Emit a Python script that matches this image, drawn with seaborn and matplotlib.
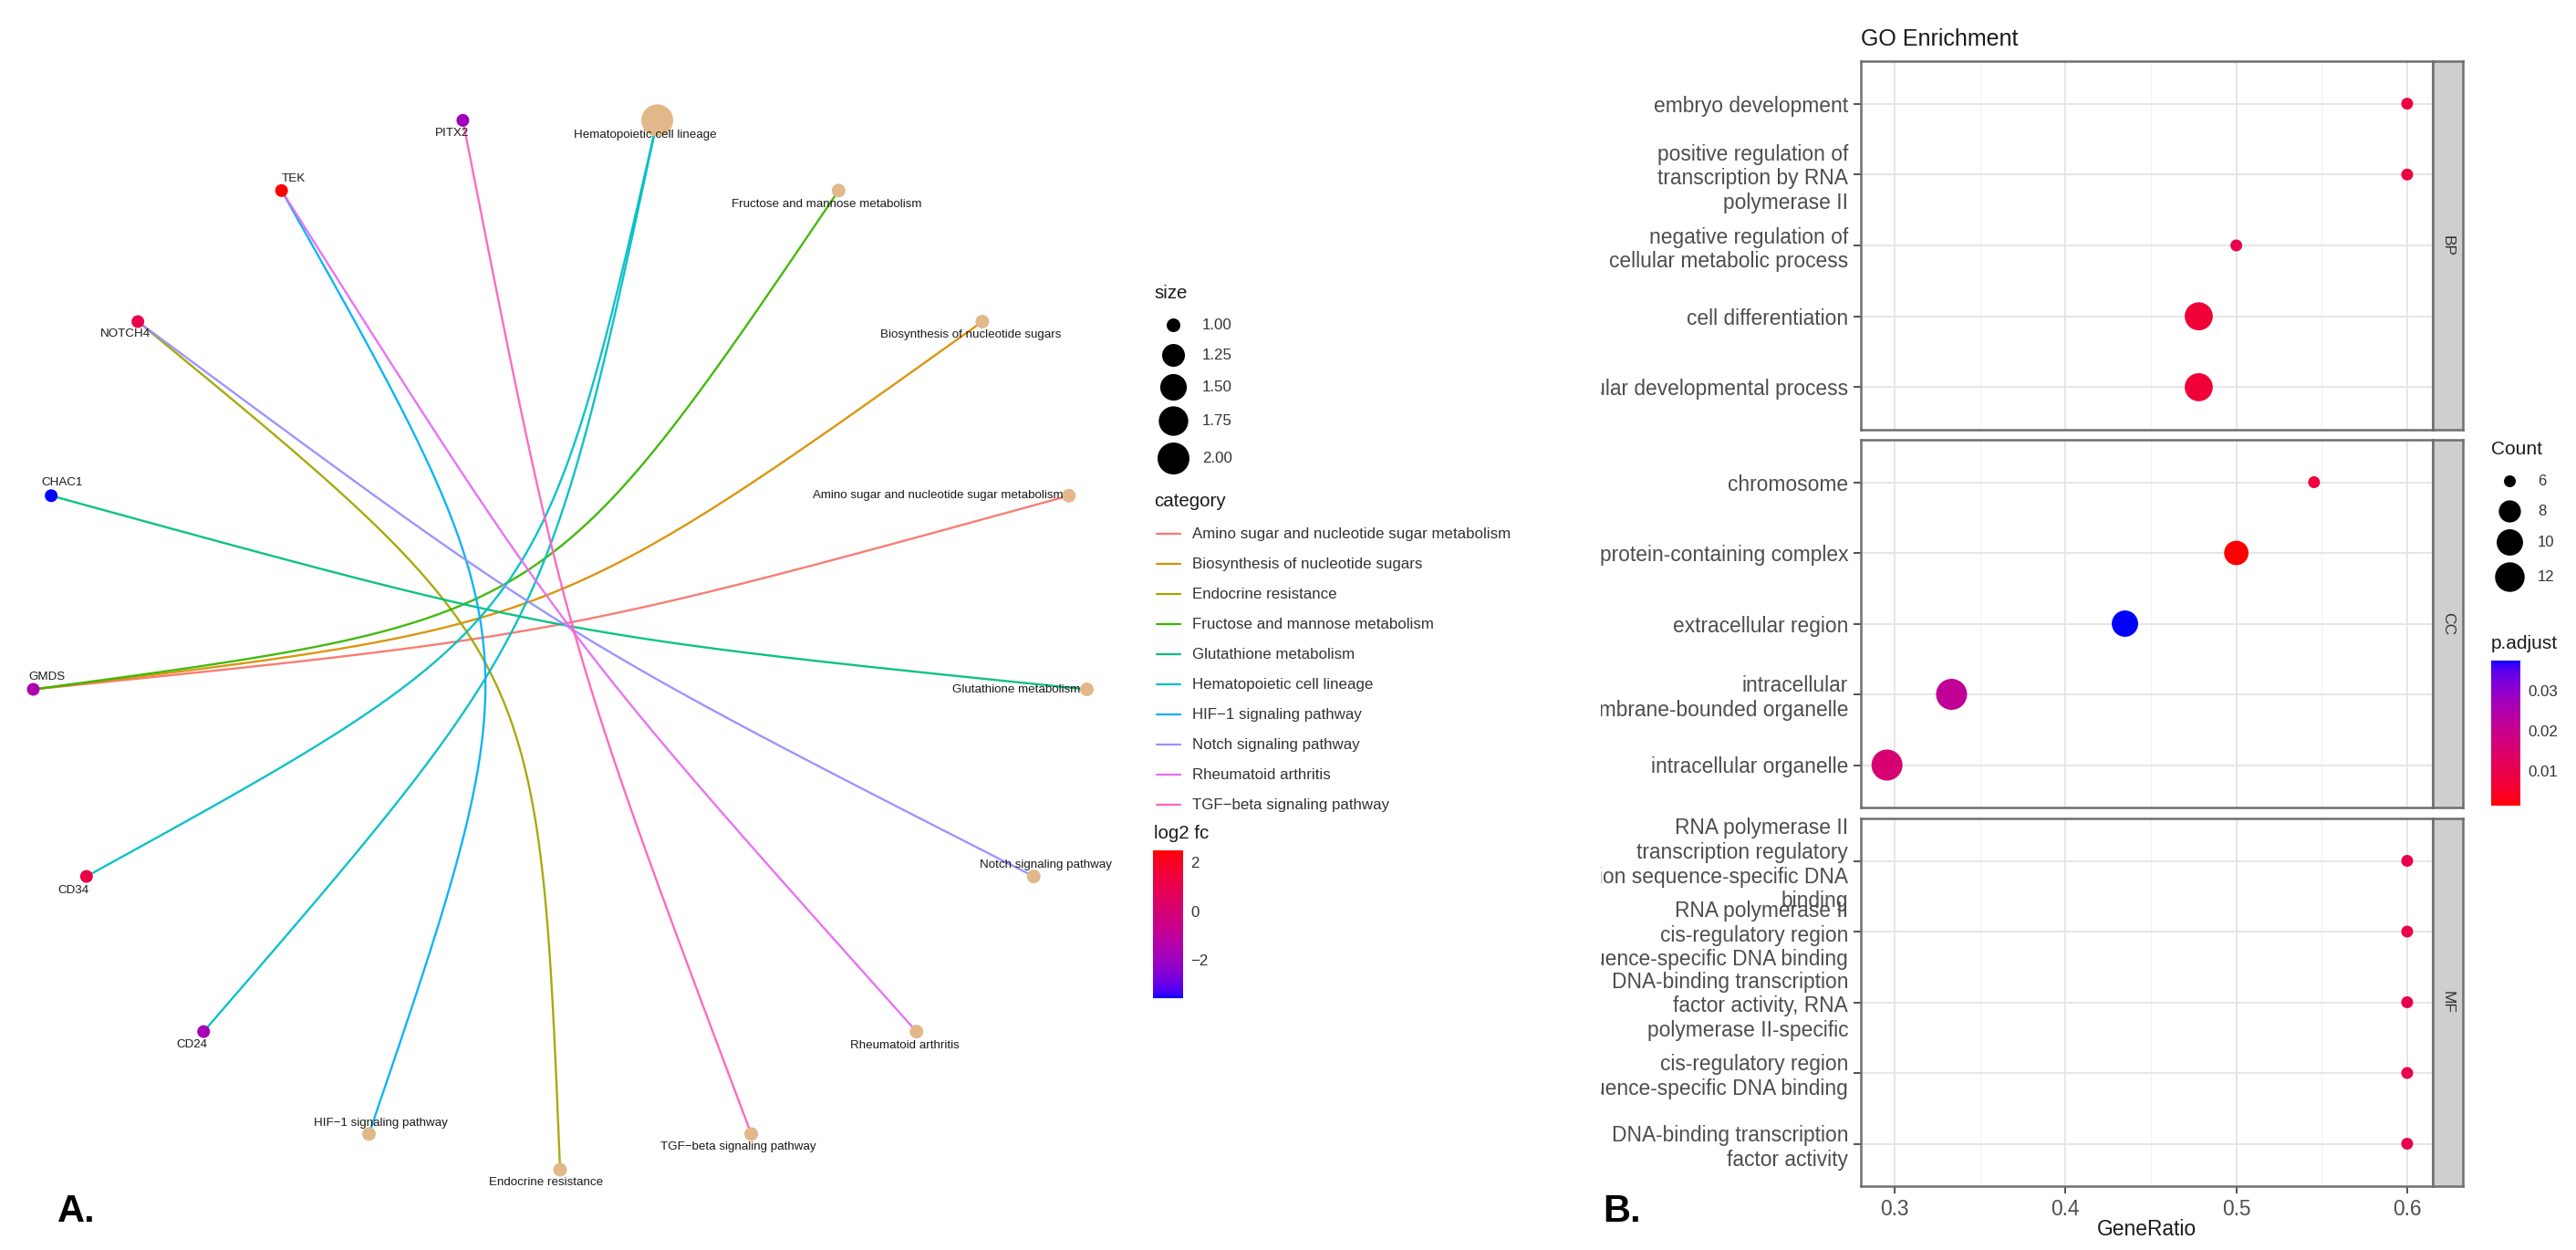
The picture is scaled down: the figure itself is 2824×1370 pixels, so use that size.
import numpy as np
import pandas as pd
import matplotlib
matplotlib.use("Agg")
import matplotlib.pyplot as plt
import seaborn as sns
from matplotlib.colors import ListedColormap, Normalize
from matplotlib.cm import ScalarMappable
from matplotlib.patches import Rectangle

# ------------------------------------------------------------------ data (A)
categories = ["Amino sugar and nucleotide sugar metabolism",
              "Biosynthesis of nucleotide sugars",
              "Endocrine resistance",
              "Fructose and mannose metabolism",
              "Glutathione metabolism",
              "Hematopoietic cell lineage",
              "HIF\u22121 signaling pathway",
              "Notch signaling pathway",
              "Rheumatoid arthritis",
              "TGF\u2212beta signaling pathway"]
category_colors = ["#F8766D", "#D89000", "#A3A500", "#39B600", "#00BF7D",
                   "#00BFC4", "#00B0F6", "#9590FF", "#E76BF3", "#FF62BC"]
genes = ["PITX2", "TEK", "NOTCH4", "CHAC1", "GMDS", "CD34", "CD24"]
gene_log2fc = [-1.9, 2.49, 1.1, -3.57, -1.5, 1.2, -1.7]
edge_category = ["Amino sugar and nucleotide sugar metabolism",
                 "Biosynthesis of nucleotide sugars",
                 "Endocrine resistance",
                 "Fructose and mannose metabolism",
                 "Glutathione metabolism",
                 "Hematopoietic cell lineage",
                 "Hematopoietic cell lineage",
                 "HIF\u22121 signaling pathway",
                 "Notch signaling pathway",
                 "Rheumatoid arthritis",
                 "TGF\u2212beta signaling pathway"]
edge_gene = ["GMDS", "GMDS", "NOTCH4", "GMDS", "CHAC1", "CD34", "CD24",
             "TEK", "NOTCH4", "TEK", "PITX2"]
# node order around the circular layout (counter-clockwise from the bottom)
circle_order = ["Endocrine resistance", "TGF\u2212beta signaling pathway",
                "Rheumatoid arthritis", "Notch signaling pathway",
                "Glutathione metabolism",
                "Amino sugar and nucleotide sugar metabolism",
                "Biosynthesis of nucleotide sugars",
                "Fructose and mannose metabolism",
                "Hematopoietic cell lineage",
                "PITX2", "TEK", "NOTCH4", "CHAC1", "GMDS", "CD34", "CD24",
                "HIF\u22121 signaling pathway"]
size_legend_values = [1.00, 1.25, 1.50, 1.75, 2.00]
fc_ticks = [2, 0, -2]
fc_range = (-3.57, 2.49)

# ------------------------------------------------------------------ data (B)
go_ontology = ["BP"] * 5 + ["CC"] * 5 + ["MF"] * 5
go_terms = ["embryo development",
            "positive regulation of\ntranscription by RNA\npolymerase II",
            "negative regulation of\ncellular metabolic process",
            "cell differentiation",
            "cellular developmental process",
            "chromosome",
            "protein-containing complex",
            "extracellular region",
            "intracellular\nmembrane-bounded organelle",
            "intracellular organelle",
            "RNA polymerase II\ntranscription regulatory\nregion sequence-specific DNA\nbinding",
            "RNA polymerase II\ncis-regulatory region\nsequence-specific DNA binding",
            "DNA-binding transcription\nfactor activity, RNA\npolymerase II-specific",
            "cis-regulatory region\nsequence-specific DNA binding",
            "DNA-binding transcription\nfactor activity"]
go_gene_ratio = [0.600, 0.600, 0.500, 0.478, 0.478,
                 0.5455, 0.500, 0.4348, 0.3333, 0.2955,
                 0.600, 0.600, 0.600, 0.600, 0.600]
go_count = [6, 6, 6, 11, 11,
            6, 9, 10, 13, 13,
            6, 6, 6, 6, 6]
go_padj = [0.0085, 0.0085, 0.0105, 0.0070, 0.0070,
           0.0080, 0.0014, 0.0375, 0.0215, 0.0160,
           0.0100, 0.0100, 0.0100, 0.0100, 0.0100]
padj_ticks = [0.01, 0.02, 0.03]
padj_range = (0.0014, 0.0375)
count_legend_values = [6, 8, 10, 12]
x_ticks = [0.3, 0.4, 0.5, 0.6]

# ------------------------------------------------------------------ colour ramps (CIELAB, like ggplot)
_M = np.array([[0.4124564, 0.3575761, 0.1804375],
               [0.2126729, 0.7151522, 0.0721750],
               [0.0193339, 0.1191920, 0.9503041]])
_W = np.array([0.95047, 1.0, 1.08883])


def srgb_to_lab(rgb):
    rgb = np.asarray(rgb, float)
    lin = np.where(rgb <= 0.04045, rgb / 12.92, ((rgb + 0.055) / 1.055) ** 2.4)
    xyz = lin @ _M.T / _W
    f = np.where(xyz > 0.008856, np.cbrt(xyz), 7.787 * xyz + 16 / 116)
    return np.stack([116 * f[..., 1] - 16, 500 * (f[..., 0] - f[..., 1]),
                     200 * (f[..., 1] - f[..., 2])], -1)


def lab_to_srgb(lab):
    fy = (lab[..., 0] + 16) / 116
    fx = fy + lab[..., 1] / 500
    fz = fy - lab[..., 2] / 200
    f = np.stack([fx, fy, fz], -1)
    xyz = np.where(f ** 3 > 0.008856, f ** 3, (f - 16 / 116) / 7.787) * _W
    lin = np.clip(xyz @ np.linalg.inv(_M).T, 0, 1)
    rgb = np.where(lin <= 0.0031308, 12.92 * lin, 1.055 * lin ** (1 / 2.4) - 0.055)
    return np.clip(rgb, 0, 1)


def lab_ramp(c0, c1, n=256):
    l0, l1 = srgb_to_lab(c0), srgb_to_lab(c1)
    t = np.linspace(0, 1, n)[:, None]
    return ListedColormap(lab_to_srgb(l0 + (l1 - l0) * t))


fc_cmap = lab_ramp([0, 0, 1], [1, 0, 0])      # low blue -> high red
padj_cmap = lab_ramp([1, 0, 0], [0, 0, 1])    # low red -> high blue

# ------------------------------------------------------------------ style
sns.set_theme(style="white")
plt.rcParams["font.family"] = ["Liberation Sans", "DejaVu Sans"]
plt.rcParams["axes.unicode_minus"] = True

W, H, DPI = 2824, 1370, 200
fig = plt.figure(figsize=(W / DPI, H / DPI), dpi=DPI, facecolor="white")
PT = 72 / DPI


def px_area(d_px):
    return (d_px * PT) ** 2


tan = "#E2B88B"
txt_dark = "#1A1A1A"

# ------------------------------------------------------------------ panel A: network
cx, cy, R = 614, 702, 580
ax_net = fig.add_axes([0, 0, 1228 / W, 1])
ax_net.set_xlim(-cx / R, (1228 - cx) / R)
ax_net.set_ylim(-(H - cy) / R, cy / R)
ax_net.axis("off")

n_nodes = len(circle_order)
theta = np.deg2rad(270 + np.arange(n_nodes) * 360 / n_nodes)
pos = {name: np.array([np.cos(t), np.sin(t)]) for name, t in zip(circle_order, theta)}
cat_color = dict(zip(categories, category_colors))

# edges: cubic Bezier bent toward the circle centre
bend = 0.9
tt = np.linspace(0, 1, 200)[:, None]
for c, g in zip(edge_category, edge_gene):
    p0, p3 = pos[c], pos[g]
    q = (1 - bend) * (p0 + p3) / 2
    curve = ((1 - tt) ** 3) * p0 + 3 * ((1 - tt) ** 2) * tt * q + 3 * (1 - tt) * tt ** 2 * q + tt ** 3 * p3
    ax_net.plot(curve[:, 0], curve[:, 1], color=cat_color[c], lw=0.85, alpha=0.95,
                solid_capstyle="round", zorder=1)

cat_size = pd.Series(edge_category).value_counts()
cat_df = pd.DataFrame({"name": categories,
                       "x": [pos[c][0] for c in categories],
                       "y": [pos[c][1] for c in categories],
                       "size": [float(cat_size[c]) for c in categories]})
gene_df = pd.DataFrame({"name": genes,
                        "x": [pos[g][0] for g in genes],
                        "y": [pos[g][1] for g in genes],
                        "log2fc": gene_log2fc})


def node_d(v):
    return 15 + 20 * np.sqrt(max(v - 1, 0))


sns.scatterplot(data=cat_df, x="x", y="y", size="size",
                sizes={v: px_area(node_d(v)) for v in cat_df["size"].unique()},
                color=tan, linewidth=0, legend=False, ax=ax_net, zorder=3)
sns.scatterplot(data=gene_df, x="x", y="y", hue="log2fc", palette=fc_cmap,
                hue_norm=fc_range, s=px_area(14), linewidth=0, legend=False,
                ax=ax_net, zorder=3)
ax_net.set_xlim(-cx / R, (1228 - cx) / R)
ax_net.set_ylim(-(H - cy) / R, cy / R)
ax_net.set_xlabel("")
ax_net.set_ylabel("")

# label nudges (pixels, screen-down positive) and alignment
label_nudge = {
    "PITX2": (-12, 14, "center"), "Hematopoietic cell lineage": (-13, 16, "center"),
    "TEK": (13, -13, "center"), "NOTCH4": (-14, 14, "center"),
    "CHAC1": (12, -14, "center"), "Fructose and mannose metabolism": (-13, 15, "center"),
    "Biosynthesis of nucleotide sugars": (-13, 15, "center"),
    "Amino sugar and nucleotide sugar metabolism": (-6, 0, "right"),
    "Glutathione metabolism": (-7, 0, "right"), "GMDS": (15, -14, "center"),
    "CD34": (-14, 15, "center"), "CD24": (-13, 14, "center"),
    "HIF\u22121 signaling pathway": (13, -12, "center"),
    "Endocrine resistance": (-15, 14, "center"),
    "TGF\u2212beta signaling pathway": (-14, 14, "center"),
    "Rheumatoid arthritis": (-13, 15, "center"),
    "Notch signaling pathway": (13, -13, "center"),
}
for name in circle_order:
    dx, dy, ha = label_nudge[name]
    ax_net.annotate(name, pos[name], xytext=(dx, -dy), textcoords="offset pixels",
                    ha=ha, va="center", fontsize=4.8, color=txt_dark, zorder=4)

# ------------------------------------------------------------------ panel B: dot plot
df = pd.DataFrame({"ONT": go_ontology, "Description": go_terms,
                   "GeneRatio": go_gene_ratio, "Count": go_count,
                   "p.adjust": go_padj})
cmin, cmax = min(go_count), max(go_count)


def count_d(c):
    return 13 + 21 * np.sqrt((c - cmin) / (cmax - cmin))


count_sizes = {c: px_area(count_d(c)) for c in sorted(set(go_count))}

panel_px = {"BP": (67, 471), "CC": (482, 885), "MF": (897, 1300)}
PX0, PX1, SX1 = 2040, 2667, 2700
xlim = (0.2802, 0.6150)
for ont in ["BP", "CC", "MF"]:
    top, bot = panel_px[ont]
    ax = fig.add_axes([PX0 / W, 1 - bot / H, (PX1 - PX0) / W, (bot - top) / H])
    sub = df[df["ONT"] == ont].reset_index(drop=True)
    n = len(sub)
    sub["ypos"] = np.arange(n)[::-1]
    ax.set_facecolor("white")
    ax.set_axisbelow(True)
    ax.set_xticks(x_ticks)
    ax.set_xticks([0.35, 0.45, 0.55], minor=True)
    ax.set_yticks(sub["ypos"])
    ax.grid(which="major", color="#E6E6E6", lw=0.7)
    ax.grid(which="minor", axis="x", color="#F2F2F2", lw=0.4)
    sns.scatterplot(data=sub, x="GeneRatio", y="ypos", hue="p.adjust", size="Count",
                    palette=padj_cmap, hue_norm=padj_range, sizes=count_sizes,
                    linewidth=0, legend=False, ax=ax, zorder=3)
    ax.set_xlim(*xlim)
    ax.set_ylim(-0.6, n - 1 + 0.6)
    ax.set_yticks(sub["ypos"])
    ax.set_yticklabels(sub["Description"])
    ax.set_xlabel("")
    ax.set_ylabel("")
    ax.tick_params(axis="y", length=2.8, width=0.6, color="#333333", labelsize=8.2,
                   labelcolor="#4D4D4D", pad=2.2, left=True)
    ax.tick_params(which="minor", length=0)
    if ont == "MF":
        ax.tick_params(axis="x", length=2.8, width=0.6, color="#333333", labelsize=8.2,
                       labelcolor="#4D4D4D", pad=2.2, bottom=True)
        ax.set_xticklabels([f"{v:.1f}" for v in x_ticks])
    else:
        ax.tick_params(axis="x", length=0, labelbottom=False)
    for s in ax.spines.values():
        s.set_color("#6E6E6E")
        s.set_linewidth(0.9)
    # facet strip
    sax = fig.add_axes([PX1 / W, 1 - bot / H, (SX1 - PX1) / W, (bot - top) / H])
    sax.set_facecolor("#CFCFCF")
    sax.set_xticks([])
    sax.set_yticks([])
    for s in sax.spines.values():
        s.set_color("#6E6E6E")
        s.set_linewidth(0.9)
    sax.text(0.5, 0.5, ont, rotation=-90, ha="center", va="center",
             fontsize=6.3, color="#333333", transform=sax.transAxes)

# colour bars
def make_cbar(rect_px, cmap, rng, ticks, fmt):
    x0, y0, x1, y1 = rect_px
    cax = fig.add_axes([x0 / W, 1 - y1 / H, (x1 - x0) / W, (y1 - y0) / H])
    cb = fig.colorbar(ScalarMappable(norm=Normalize(*rng), cmap=cmap), cax=cax)
    cb.set_ticks(ticks)
    cb.set_ticklabels([fmt(t) for t in ticks])
    cb.outline.set_visible(False)
    cax.tick_params(left=True, right=True, direction="in", length=3.0, width=0.5,
                    color="white", labelsize=6.1, labelcolor="#333333", pad=3)
    return cb


make_cbar((1264, 932, 1297, 1094), fc_cmap, fc_range, fc_ticks,
          lambda t: f"{t:d}".replace("-", "\u2212"))
make_cbar((2731, 724, 2763, 883), padj_cmap, padj_range, padj_ticks,
          lambda t: f"{t:.2f}")

# ------------------------------------------------------------------ overlay: legends, titles, labels
ov = fig.add_axes([0, 0, 1, 1])
ov.set_xlim(0, W)
ov.set_ylim(H, 0)
ov.axis("off")

# mask: the B panel image is cut at its left edge
ov.add_patch(Rectangle((1690, 0), 1755 - 1690, H, facecolor="white", edgecolor="none", zorder=5))

# size legend (A)
ov.text(1265, 321, "size", fontsize=7.4, color=txt_dark, ha="left", va="center", zorder=6)
for v, y in zip(size_legend_values, [356, 389, 424, 461, 502]):
    ov.scatter([1286], [y], s=px_area(node_d(v)), color="black", linewidth=0, zorder=6)
    ov.text(1318, y, f"{v:.2f}", fontsize=6.1, color="#333333", ha="left", va="center", zorder=6)

# category legend (A)
ov.text(1265, 549, "category", fontsize=7.4, color=txt_dark, ha="left", va="center", zorder=6)
for i, (c, col) in enumerate(zip(categories, category_colors)):
    y = 585 + 33 * i
    ov.plot([1268, 1294], [y, y], color=col, lw=0.8, zorder=6)
    ov.text(1307, y, c, fontsize=6.1, color="#333333", ha="left", va="center", zorder=6)

ov.text(1265, 913, "log2 fc", fontsize=7.4, color=txt_dark, ha="left", va="center", zorder=6)

# count legend (B)
ov.text(2731, 492, "Count", fontsize=7.5, color=txt_dark, ha="left", va="center", zorder=6)
for c, y in zip(count_legend_values, [527, 560, 594, 632]):
    ov.scatter([2751], [y], s=px_area(count_d(c)), color="black", linewidth=0, zorder=6)
    ov.text(2782, y, f"{c}", fontsize=6.0, color="#333333", ha="left", va="center", zorder=6)
ov.text(2731, 705, "p.adjust", fontsize=7.5, color=txt_dark, ha="left", va="center", zorder=6)

# titles
ov.text(PX0, 43, "GO Enrichment", fontsize=9, color=txt_dark, ha="left", va="center", zorder=6)
ov.text((PX0 + PX1) / 2, 1347, "GeneRatio", fontsize=8.2, color=txt_dark,
        ha="center", va="center", zorder=6)
ov.text(63, 1328, "A.", fontsize=15, fontweight="bold", color="black",
        ha="left", va="center", zorder=7)
ov.text(1757, 1328, "B.", fontsize=15, fontweight="bold", color="black",
        ha="left", va="center", zorder=7)

fig.savefig("out.png", dpi=DPI, facecolor="white")
